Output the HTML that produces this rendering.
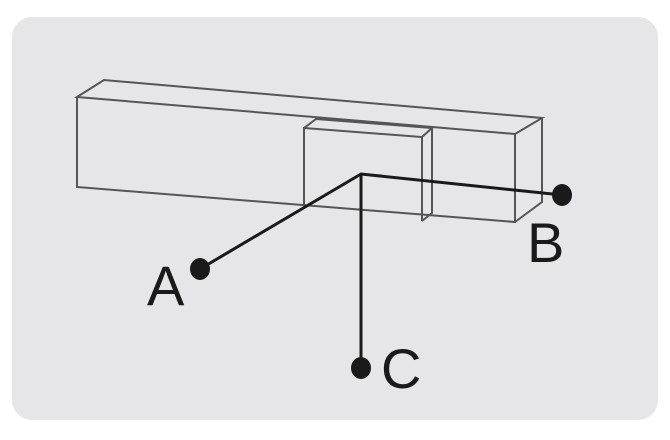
<!DOCTYPE html>
<html><head><style>
html,body{margin:0;padding:0;background:#fff;}
</style></head><body>
<svg width="670" height="435" viewBox="0 0 670 435" xmlns="http://www.w3.org/2000/svg">
<rect x="12" y="17" width="646" height="403" rx="20" fill="#e6e6e8"/>
<g fill="none" stroke="#555" stroke-width="2" stroke-linejoin="miter">
<path d="M77,97 L104,80 L542,118 L515,134 Z"/>
<path d="M77,97 L77,187 L515,222 L515,134"/>
<path d="M542,118 L542,202 L515,222"/>
<path d="M304,205 L304,128 L422,137 L422,221"/>
<path d="M304,128 L316,119 L432,128 L422,137"/>
<path d="M432,128 L432,213 L422,221"/>
</g>
<g stroke="#1a1a1a" stroke-width="3" fill="none">
<path d="M200,269 L361,174 L562,195"/>
<path d="M361,174 L361,368"/>
</g>
<g fill="#1a1a1a">
<ellipse cx="200" cy="269" rx="10" ry="11"/>
<ellipse cx="562" cy="195" rx="10" ry="11"/>
<ellipse cx="361" cy="368" rx="10" ry="11"/>
</g>
<g font-family="'Liberation Sans',sans-serif" font-size="56" fill="#1a1a1a">
<text x="147" y="305">A</text>
<text x="527" y="262">B</text>
<text x="381" y="388">C</text>
</g>
</svg>
</body></html>
